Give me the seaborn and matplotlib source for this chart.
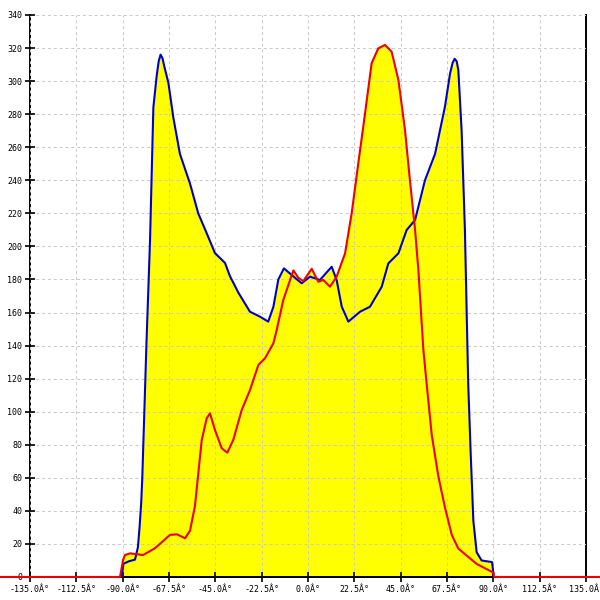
import numpy as np
import matplotlib
matplotlib.use("Agg")
import matplotlib.pyplot as plt
import seaborn as sns

# angle (deg) / count
blue_x = [-90.5, -89.6, -87.0, -84.0, -82.6, -81.8, -81.0, -80.5, -78.4, -76.7,
          -75.9, -75.1, -73.5, -72.5, -71.6, -70.7, -69.8, -67.8, -65.4, -62.2,
          -57.3, -53.3, -49.2, -45.2, -40.3, -37.9, -33.8, -28.2, -23.3, -19.3,
          -16.8, -14.4, -11.7, -7.9, -3.1, 1.0, 5.8, 11.5, 13.9, 16.4,
          19.6, 25.3, 30.1, 35.8, 39.0, 43.9, 47.9, 52.0, 56.8, 61.7,
          66.5, 69.0, 70.2, 71.2, 72.2, 73.0, 74.6, 76.2, 77.8, 79.0,
          80.3, 81.9, 84.3, 89.4, 90.2]
blue_y = [0, 8, 9.5, 10.5, 18, 30, 45, 59, 143, 204,
          244, 284, 303, 312, 316, 314, 309, 299, 278, 256,
          238, 220, 208, 196, 190, 182, 172, 160.5, 157.5, 154.5,
          163.5, 180, 186.7, 182.7, 177.7, 181.7, 179.7, 187.7, 179.7, 163.5,
          154.5, 160.5, 163.5, 175.6, 189.7, 195.8, 209.9, 216, 240, 256,
          284.5, 304.7, 311, 313.5, 312, 306.7, 270, 210, 117, 75,
          34, 15, 10, 9, 0]

red_x = [-150, -91.3, -89.8, -88.9, -86.4, -80.1, -74.3, -67.0, -63.6, -59.7,
         -57.3, -54.9, -51.6, -49.2, -47.6, -45.2, -41.9, -39.2, -36.3, -32.2,
         -28.2, -24.1, -20.9, -16.8, -15.2, -12.0, -7.1, -4.7, -2.3, 1.8,
         5.0, 7.4, 10.7, 13.9, 18.0, 21.2, 24.4, 27.7, 30.9, 34.1,
         37.4, 40.6, 43.9, 47.1, 49.5, 52.0, 53.6, 56.0, 57.6, 60.1,
         63.3, 66.5, 69.8, 73.0, 77.0, 81.9, 86.8, 90.0, 90.3, 150]
red_y = [0, 0, 10.3, 13.3, 14.3, 13.3, 17.4, 25.5, 25.8, 23.4,
         28, 43, 82.9, 96, 99, 89, 77.9, 75.2, 82.9, 101,
         113, 128.3, 132.3, 141.4, 149.4, 167.6, 185.5, 181, 179, 186.5,
         178.6, 179.7, 175.6, 181.7, 195.8, 220, 250, 280.5, 310.8, 319.8,
         321.9, 317.8, 300.7, 270.4, 240, 210, 185.7, 137.8, 117, 85.8,
         60.9, 42.1, 25.5, 17.2, 13, 7.9, 4.7, 2.7, 0, 0]

x_ticks = np.arange(-135, 135.1, 22.5)
y_ticks = np.arange(0, 341, 20)

sns.set_theme(style="white")
plt.rcParams['font.family'] = ['DejaVu Sans Mono']

fig = plt.figure(figsize=(6, 6), dpi=100)
ax = fig.add_axes([30 / 600, 23 / 600, 556 / 600, 562 / 600])

# yellow area under both curves
ax.fill_between(blue_x, 0, blue_y, color="#ffff00", linewidth=0, zorder=1)
ax.fill_between(red_x, 0, red_y, color="#ffff00", linewidth=0, zorder=1)

sns.lineplot(x=blue_x, y=blue_y, color="#0000cc", linewidth=1.5,
             estimator=None, sort=False, ax=ax, zorder=3)
sns.lineplot(x=red_x, y=red_y, color="#ee0000", linewidth=1.5,
             estimator=None, sort=False, ax=ax, zorder=4, clip_on=False)

ax.set_xlim(-135, 135)
ax.set_ylim(0, 340)
ax.set_xticks(x_ticks)
ax.set_xticklabels([f"{v:.1f}Â°" for v in x_ticks])
ax.set_yticks(y_ticks)
ax.set_yticklabels([str(v) for v in y_ticks])

ax.set_axisbelow(False)
ax.grid(True, color="#c8c8c8", linestyle=(0, (3, 3)), linewidth=0.7)

for side in ["left", "right", "bottom"]:
    ax.spines[side].set_visible(True)
    ax.spines[side].set_color("black")
    ax.spines[side].set_linewidth(1.4)
ax.spines["top"].set_visible(False)

ax.tick_params(axis="both", direction="inout", length=7, width=1.2,
               color="black", labelsize=6, labelcolor="black", pad=2,
               left=True, bottom=True, right=False, top=False)

fig.savefig("out.png", dpi=100)
